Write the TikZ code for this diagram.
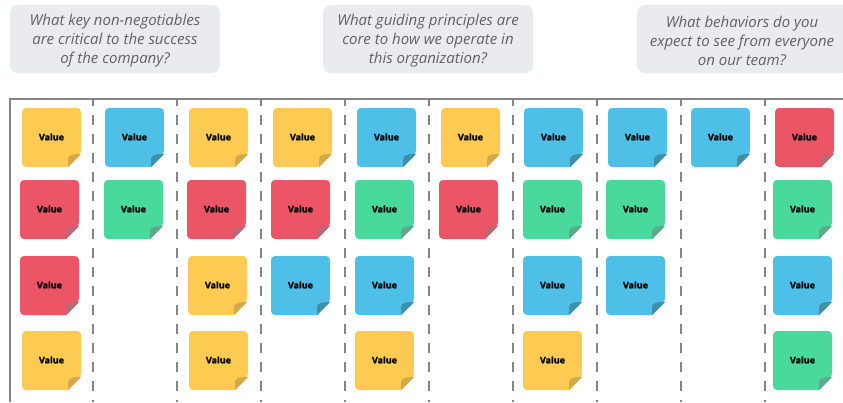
\documentclass[tikz,border=0pt]{standalone}
\usepackage{fontspec}
\setmainfont{Open Sans}
\newfontfamily\qfont{Open Sans}
\newfontfamily\vfont{Open Sans}[BoldFeatures={FakeBold=1.5}]
\definecolor{qbg}{HTML}{E9EBEE}
\definecolor{qtext}{HTML}{5F6266}
\definecolor{ny}{HTML}{FECB52}
\definecolor{nyd}{HTML}{D3A94B}
\definecolor{nb}{HTML}{4EC0E8}
\definecolor{nbd}{HTML}{3E8FA7}
\definecolor{nr}{HTML}{EC5566}
\definecolor{nrd}{HTML}{B86B76}
\definecolor{ng}{HTML}{4AD99D}
\definecolor{ngd}{HTML}{5CAA89}
\definecolor{linec}{HTML}{858585}
\tikzset{
  qbox/.style={fill=qbg, rounded corners=8pt},
  qlabel/.style={align=center, text=qtext, font=\qfont\itshape\fontsize{15}{19}\selectfont, inner sep=0pt},
  vlabel/.style={font=\vfont\bfseries\fontsize{9}{10}\selectfont, text=black, inner sep=0pt},
  sep/.style={draw=linec, line width=1.3pt, dash pattern=on 10pt off 9pt, dash phase=4pt},
  frame/.style={draw=linec, line width=1.6pt}
}
\begin{document}
\begin{tikzpicture}[x=1pt,y=-1pt]
\useasboundingbox (0,0) rectangle (843,402);
\fill[white] (0,0) rectangle (843,402);
% question boxes
\fill[qbox] (10,5) rectangle (220,73);
\fill[qbox] (323,5) rectangle (533,73);
\fill[qbox] (637,5) rectangle (850,73);
\node[qlabel] (q1) at (115,40.5) {What key non-negotiables\\are critical to the success\\of the company?};
\node[qlabel] (q2) at (428,40.5) {What guiding principles are\\core to how we operate in\\this organization?};
\node[qlabel] (q3) at (742,40.5) {What behaviors do you\\expect to see from everyone\\on our team?};
% frame
\coordinate (tl) at (10,99);
\coordinate (tr) at (843,99);
\coordinate (bl) at (10,402);
\draw[frame] (9,99) -- (tr);
\draw[frame] (tl) -- (bl);
\foreach \i in {1,...,9}{
  \coordinate (s\i t) at (9+84*\i,100);
  \coordinate (s\i b) at (9+84*\i,402);
  \draw[sep] (s\i t) -- (s\i b);
}
% notes: x1/y1/color/name
\foreach \x/\y/\c/\n in {
  22/108/ny/n11, 20/180/nr/n12, 20/256/nr/n13, 22/331/ny/n14,
  105/108/nb/n21, 104/180/ng/n22,
  189/108/ny/n31, 187/180/nr/n32, 188/256/ny/n33, 189/331/ny/n34,
  273/108/ny/n41, 271/180/nr/n42, 271/256/nb/n43,
  357/108/nb/n51, 355/180/ng/n52, 355/256/nb/n53, 355/331/ny/n54,
  441/108/ny/n61, 439/180/nr/n62,
  524/108/nb/n71, 523/180/ng/n72, 523/256/nb/n73, 523/331/ny/n74,
  608/108/nb/n81, 606/180/ng/n82, 606/256/nb/n83,
  691/108/nb/n91,
  775/108/nr/n101, 773/180/ng/n102, 773/256/nb/n103, 773/331/ng/n104}{
  \pgfmathsetmacro{\xa}{\x+59}
  \pgfmathsetmacro{\ya}{\y+59}
  \pgfmathsetmacro{\xf}{\x+59-13}
  \pgfmathsetmacro{\yf}{\y+59-13}
  \fill[\c, rounded corners=4pt] (\x,\y) -- (\xa,\y) -- (\xa,\yf) [sharp corners] -- (\xf,\ya) [rounded corners=4pt] -- (\x,\ya) -- cycle;
  \fill[\c d] (\xf,\ya) -- ++(0,-8) .. controls ++(0,-5) and ++(-5,0) .. (\xa,\yf) -- cycle;
  \node[vlabel] (\n) at (\x+29.5,\y+29) {Value};
}
\end{tikzpicture}
\end{document}
